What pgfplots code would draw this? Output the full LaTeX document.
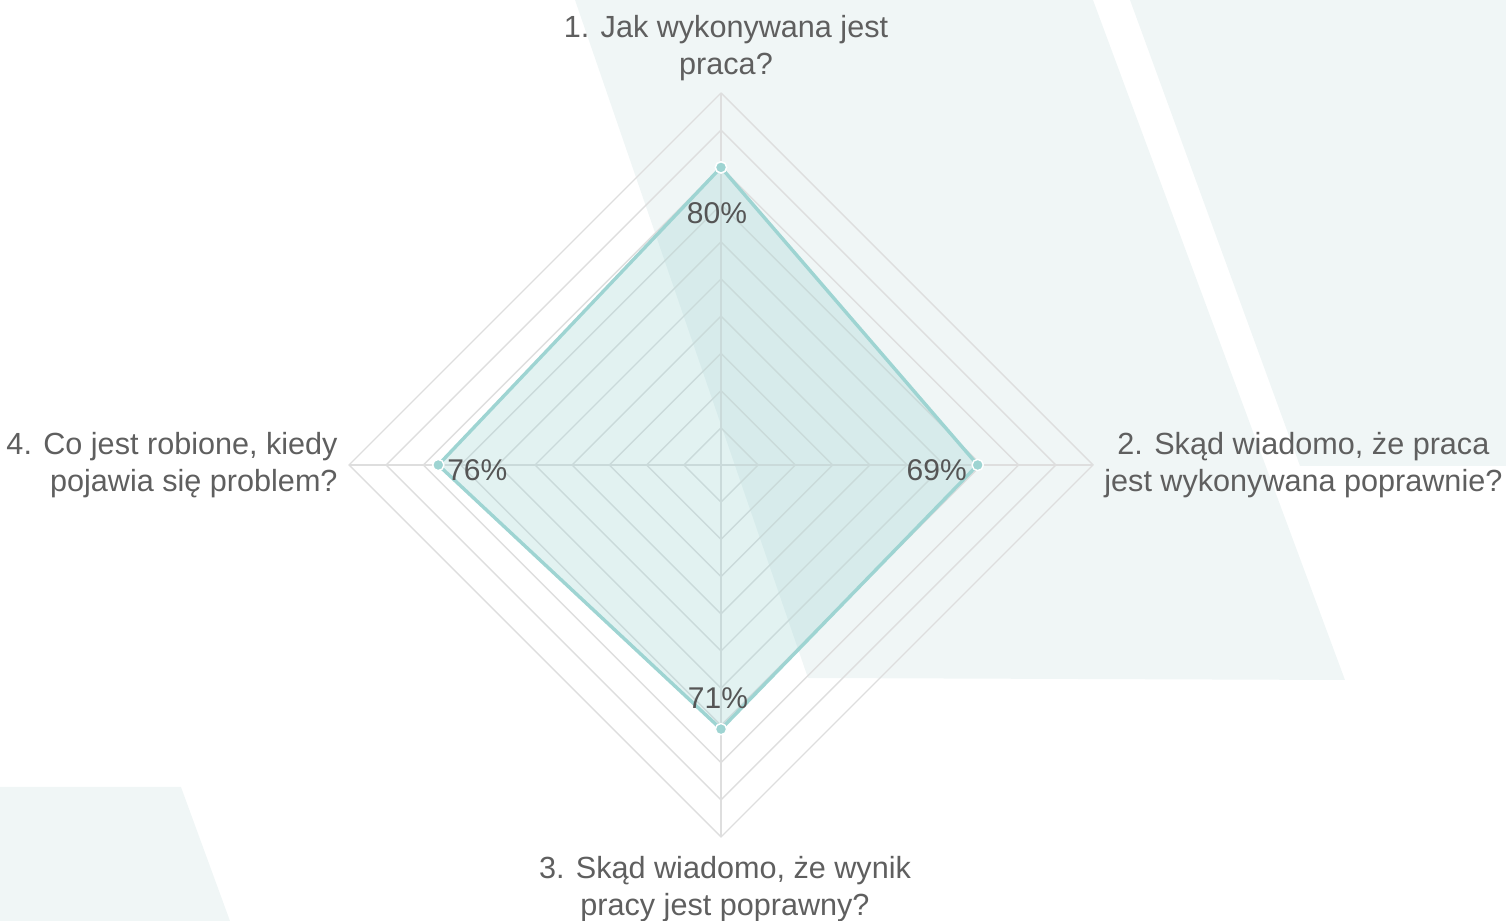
\documentclass[border=0pt]{standalone}
\usepackage{fontspec}
\setmainfont{Liberation Sans}
\usepackage{pgfplots}
\pgfplotsset{compat=1.18}
\definecolor{bgshape}{RGB}{240,246,246}
\definecolor{radar}{RGB}{158,212,210}
\definecolor{gridc}{RGB}{222,222,222}
\definecolor{labelc}{RGB}{95,95,95}
\definecolor{valuec}{RGB}{85,85,85}

\begin{document}
\begin{tikzpicture}[x=0.5pt,y=0.5pt]
\useasboundingbox (0,0) rectangle (1506,921);
% background shapes
\fill[bgshape] (575,921) -- (1093,921) -- (1345,241) -- (808,243) -- cycle;
\fill[bgshape] (1130,921) -- (1506,921) -- (1506,455) -- (1300,455) -- cycle;
\fill[bgshape] (0,134) -- (181,134) -- (230,0) -- (0,0) -- cycle;

\begin{axis}[
    at={(360.5pt,228pt)}, anchor=origin,
    scale only axis,
    width=372pt, height=372pt,
    xmin=-100, xmax=100, ymin=-100, ymax=100,
    hide axis, clip=false,
]
% diamond grid, 10 rings
\pgfplotsinvokeforeach{10,20,...,100}{
  \addplot[gridc, line width=0.7pt] coordinates {(0,#1) (#1,0) (0,-#1) (-#1,0) (0,#1)};
}
\addplot[gridc, line width=0.7pt] coordinates {(0,-100) (0,100)};
\addplot[gridc, line width=0.7pt] coordinates {(-100,0) (100,0)};

% data: 1 top, 2 right, 3 bottom, 4 left
\addplot[radar, line width=1.7pt, fill=radar, fill opacity=0.3, draw opacity=1,
    mark=*, mark size=2.8pt,
    mark options={fill=radar, draw=white, line width=0.7pt, fill opacity=1}]
  coordinates {(0,80) (69,0) (0,-71) (-76,0) (0,80)};

\begin{scope}[font=\fontsize{15}{18}\selectfont, text=valuec]
\node at (axis cs:0,80) [xshift=-2pt, yshift=-23pt] {80\%};
\node at (axis cs:69,0) [xshift=-20.5pt, yshift=-2.5pt] {69\%};
\node at (axis cs:0,-71) [xshift=-1.5pt, yshift=15.5pt] {71\%};
\node at (axis cs:-76,0) [xshift=19.5pt, yshift=-2.5pt] {76\%};
\end{scope}
\end{axis}

% axis labels
\begin{scope}[font=\fontsize{15.3}{18.5}\selectfont, text=labelc]
\node[align=center] at (726,873) {1. Jak wykonywana jest\\praca?};
\node[align=center, anchor=west, inner sep=0pt] at (1104,456) {2. Skąd wiadomo, że praca\\jest wykonywana poprawnie?};
\node[align=center] at (725,32) {3. Skąd wiadomo, że wynik\\pracy jest poprawny?};
\node[align=right, anchor=east, inner sep=0pt] at (338,456) {4. Co jest robione, kiedy\\pojawia się problem?};
\end{scope}
\end{tikzpicture}
\end{document}
